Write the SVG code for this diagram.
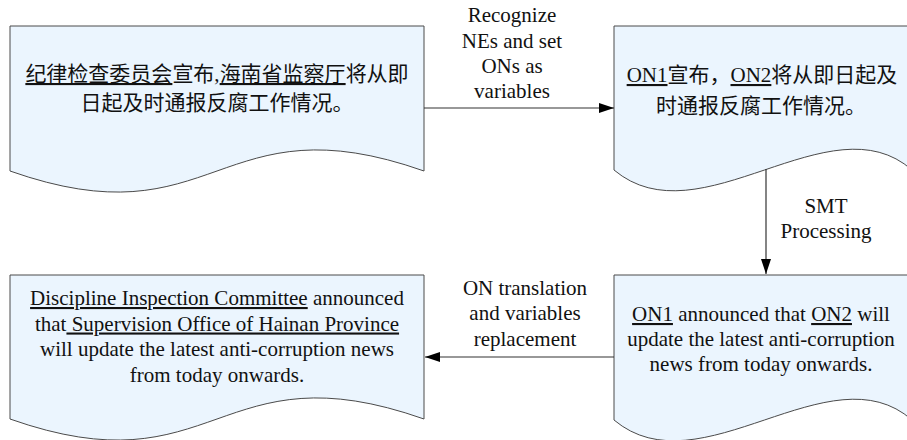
<svg xmlns="http://www.w3.org/2000/svg" width="907" height="440" viewBox="0 0 907 440">
<style>
.doc{fill:#EBF5FE;stroke:#4a4a4a;stroke-width:1}
.t{font-family:"Liberation Serif","Noto Sans CJK SC",serif;font-size:21px;fill:#111;text-anchor:middle}
.u{text-decoration:underline}
.c{stroke:#333;stroke-width:1.2;fill:none}
</style>
<defs>
<marker id="ah" viewBox="0 0 15 10" refX="15" refY="5" markerWidth="15" markerHeight="10" markerUnits="userSpaceOnUse" orient="auto">
<path d="M0,0 L15,5 L0,10 Z" fill="#000"/>
</marker>
</defs>
<rect width="907" height="440" fill="#fff"/>
<g id="node-zh-source">
<path class="doc" d="M10,26 H424 V171 C217,98 217,244 10,171 Z"/>
<text class="t" x="217" y="81"><tspan class="u">纪律检查委员会</tspan>宣布,<tspan class="u">海南省监察厅</tspan>将从即</text>
<text class="t" x="217" y="110">日起及时通报反腐工作情况。</text>
</g>
<g id="node-zh-var">
<path class="doc" d="M614,26 H912 V170 C830,98 700,242 614,170 Z"/>
<text class="t" x="762" y="82"><tspan class="u">ON1</tspan>宣布，<tspan class="u">ON2</tspan>将从即日起及</text>
<text class="t" x="761" y="113">时通报反腐工作情况。</text>
</g>
<g id="node-en-var">
<path class="doc" d="M614,275 H912 V420 C830,348 700,492 614,420 Z"/>
<text class="t" x="761" y="321"><tspan class="u">ON1</tspan> announced that <tspan class="u">ON2</tspan> will</text>
<text class="t" x="761" y="346">update the latest anti-corruption</text>
<text class="t" x="761" y="371">news from today onwards.</text>
</g>
<g id="node-en-final">
<path class="doc" d="M10,275 H424 V419 C217,346 217,492 10,419 Z"/>
<text class="t" x="217" y="305"><tspan class="u">Discipline Inspection Committee</tspan> announced</text>
<text class="t" x="217" y="330.5">that<tspan class="u"> Supervision Office of Hainan Province</tspan></text>
<text class="t" x="217" y="356">will update the latest anti-corruption news</text>
<text class="t" x="217" y="381.5">from today onwards.</text>
</g>
<g id="connectors">
<line class="c" x1="424" y1="108" x2="614" y2="108" marker-end="url(#ah)"/>
<line class="c" x1="766" y1="169" x2="766" y2="274" marker-end="url(#ah)"/>
<line class="c" x1="614" y1="357" x2="425" y2="357" marker-end="url(#ah)"/>
<text class="t" x="512" y="22">Recognize</text>
<text class="t" x="512" y="47.5">NEs and set</text>
<text class="t" x="512" y="73">ONs as</text>
<text class="t" x="512" y="98">variables</text>
<text class="t" x="826" y="213">SMT</text>
<text class="t" x="826" y="238">Processing</text>
<text class="t" x="525" y="295">ON translation</text>
<text class="t" x="525" y="320">and variables</text>
<text class="t" x="525" y="346">replacement</text>
</g>
</svg>
